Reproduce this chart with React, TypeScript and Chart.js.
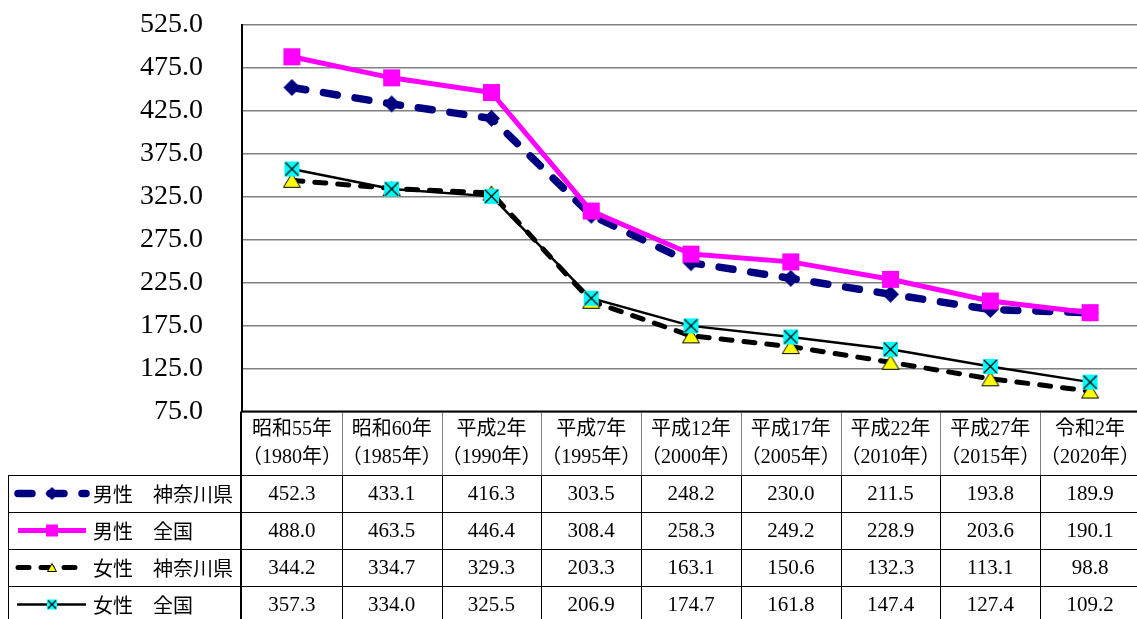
import React, { useEffect, useRef } from 'react';
import { Chart, registerables } from 'chart.js';

Chart.register(...registerables);

// ---- data ----
const eraLabels = ['昭和55年', '昭和60年', '平成2年', '平成7年', '平成12年', '平成17年', '平成22年', '平成27年', '令和2年'];
const yearLabels = ['（1980年）', '（1985年）', '（1990年）', '（1995年）', '（2000年）', '（2005年）', '（2010年）', '（2015年）', '（2020年）'];
const maleKanagawa = [452.3, 433.1, 416.3, 303.5, 248.2, 230.0, 211.5, 193.8, 189.9];
const maleNational = [488.0, 463.5, 446.4, 308.4, 258.3, 249.2, 228.9, 203.6, 190.1];
const femaleKanagawa = [344.2, 334.7, 329.3, 203.3, 163.1, 150.6, 132.3, 113.1, 98.8];
const femaleNational = [357.3, 334.0, 325.5, 206.9, 174.7, 161.8, 147.4, 127.4, 109.2];
const seriesNames = ['男性　神奈川県', '男性　全国', '女性　神奈川県', '女性　全国'];
const yMin = 75;
const yMax = 525;
const yStep = 50;

// ---- styles ----
const NAVY = '#000080';
const MAGENTA = '#FF00FF';
const YELLOW = '#FFFF00';
const CYAN = '#00FFFF';

function makeMarker(kind: string, w: number, h: number): HTMLCanvasElement {
  const pad = 1;
  const c = document.createElement('canvas');
  c.width = w + pad * 2;
  c.height = h + pad * 2;
  const ctx = c.getContext('2d') as CanvasRenderingContext2D;
  ctx.translate(pad, pad);
  if (kind === 'diamond') {
    ctx.beginPath();
    ctx.moveTo(w / 2, 0);
    ctx.lineTo(w, h / 2);
    ctx.lineTo(w / 2, h);
    ctx.lineTo(0, h / 2);
    ctx.closePath();
    ctx.fillStyle = NAVY;
    ctx.fill();
  } else if (kind === 'square') {
    ctx.fillStyle = MAGENTA;
    ctx.fillRect(0, 0, w, h);
  } else if (kind === 'triangle') {
    ctx.beginPath();
    ctx.moveTo(w / 2, 0.5);
    ctx.lineTo(w - 0.5, h - 0.5);
    ctx.lineTo(0.5, h - 0.5);
    ctx.closePath();
    ctx.fillStyle = YELLOW;
    ctx.fill();
    ctx.strokeStyle = '#000';
    ctx.lineWidth = 1;
    ctx.stroke();
  } else if (kind === 'xsquare') {
    ctx.fillStyle = CYAN;
    ctx.fillRect(0, 0, w, h);
    ctx.strokeStyle = '#000';
    ctx.lineWidth = 1.3;
    ctx.beginPath();
    ctx.moveTo(1, 1);
    ctx.lineTo(w - 1, h - 1);
    ctx.moveTo(w - 1, 1);
    ctx.lineTo(1, h - 1);
    ctx.stroke();
  }
  return c;
}

const HEADER_BOTTOM = 475;
const ROW_H = 37;
const TABLE_LEFT = 8;
const CANVAS_W = 1140;
const CANVAS_H = 619;

export default function App() {
  const ref = useRef<HTMLCanvasElement | null>(null);

  useEffect(() => {
    const canvas = ref.current;
    if (!canvas) return;

    const mk = {
      diamond: makeMarker('diamond', 17, 17),
      square: makeMarker('square', 17, 17),
      triangle: makeMarker('triangle', 18, 15),
      xsquare: makeMarker('xsquare', 15, 15),
    };
    const lg = {
      diamond: makeMarker('diamond', 13, 13),
      square: makeMarker('square', 12, 12),
      triangle: makeMarker('triangle', 10, 9),
      xsquare: makeMarker('xsquare', 10, 10),
    };

    const seriesStyles = [
      { color: NAVY, width: 7.5, dash: [14, 18], marker: lg.diamond },
      { color: MAGENTA, width: 5, dash: [] as number[], marker: lg.square },
      { color: '#000', width: 5, dash: [11, 12], marker: lg.triangle },
      { color: '#000', width: 2.5, dash: [] as number[], marker: lg.xsquare },
    ];
    const seriesData = [maleKanagawa, maleNational, femaleKanagawa, femaleNational];

    const tablePlugin = {
      id: 'dataTable',
      afterDraw(chart: any) {
        const ctx: CanvasRenderingContext2D = chart.ctx;
        const area = chart.chartArea;
        const n = eraLabels.length;
        const colW = (area.right - area.left) / n;
        const left = area.left;
        const right = area.right;
        const top = area.bottom;
        const bottom = CANVAS_H;
        ctx.save();

        // header vertical separators (gray)
        ctx.strokeStyle = '#808080';
        ctx.lineWidth = 1;
        for (let i = 1; i <= n; i++) {
          const x = Math.round(left + i * colW) + 0.5;
          ctx.beginPath();
          ctx.moveTo(x, top);
          ctx.lineTo(x, HEADER_BOTTOM);
          ctx.stroke();
        }
        // data vertical separators (black)
        ctx.strokeStyle = '#000';
        for (let i = 1; i <= n; i++) {
          const x = Math.round(left + i * colW) + 0.5;
          ctx.beginPath();
          ctx.moveTo(x, HEADER_BOTTOM);
          ctx.lineTo(x, bottom);
          ctx.stroke();
        }
        // horizontal row lines
        for (let r = 0; r < 4; r++) {
          const y = HEADER_BOTTOM + r * ROW_H + 0.5;
          ctx.beginPath();
          ctx.moveTo(TABLE_LEFT, y);
          ctx.lineTo(right, y);
          ctx.stroke();
        }
        // left border of legend column
        ctx.beginPath();
        ctx.moveTo(TABLE_LEFT + 0.5, HEADER_BOTTOM);
        ctx.lineTo(TABLE_LEFT + 0.5, bottom);
        ctx.stroke();
        // axis lines (black)
        ctx.lineWidth = 2;
        ctx.beginPath();
        ctx.moveTo(left - 1, top);
        ctx.lineTo(right, top);
        ctx.stroke();
        ctx.beginPath();
        ctx.moveTo(left - 1, top);
        ctx.lineTo(left - 1, bottom);
        ctx.stroke();

        // header text
        ctx.fillStyle = '#000';
        ctx.textAlign = 'center';
        ctx.textBaseline = 'middle';
        ctx.font = "20px 'Liberation Serif', 'Noto Sans CJK JP', serif";
        for (let i = 0; i < n; i++) {
          const cx = chart.scales.x.getPixelForValue(i);
          ctx.fillText(eraLabels[i], cx, 430);
          ctx.fillText(yearLabels[i], cx, 458);
        }
        // data values
        ctx.font = "21px 'Liberation Serif', serif";
        for (let r = 0; r < 4; r++) {
          const cy = HEADER_BOTTOM + r * ROW_H + ROW_H / 2 + 1;
          for (let i = 0; i < n; i++) {
            const cx = chart.scales.x.getPixelForValue(i);
            ctx.fillText(seriesData[r][i].toFixed(1), cx, cy);
          }
        }
        // legend samples + names
        ctx.textAlign = 'left';
        ctx.font = "20px 'Noto Sans CJK JP', sans-serif";
        for (let r = 0; r < 4; r++) {
          const st = seriesStyles[r];
          const cy = HEADER_BOTTOM + r * ROW_H + ROW_H / 2;
          ctx.save();
          ctx.strokeStyle = st.color;
          ctx.lineWidth = st.width;
          ctx.lineCap = st.dash.length ? 'round' : 'butt';
          ctx.setLineDash(st.dash);
          ctx.beginPath();
          const x0 = r === 3 ? 17 : 18;
          const x1 = 86;
          ctx.moveTo(x0, cy);
          ctx.lineTo(x1, cy);
          ctx.stroke();
          ctx.restore();
          const m = st.marker;
          ctx.drawImage(m, 52 - m.width / 2, cy - m.height / 2);
          ctx.fillStyle = '#000';
          ctx.fillText(seriesNames[r], 93, cy + 1);
        }
        ctx.restore();
      },
    };

    const chart = new Chart(canvas, {
      type: 'line',
      data: {
        labels: eraLabels.map((e, i) => [e, yearLabels[i]]),
        datasets: [
          {
            label: seriesNames[0],
            data: maleKanagawa,
            order: 4,
            borderColor: NAVY,
            backgroundColor: NAVY,
            borderWidth: 7.5,
            borderDash: [14, 18],
            borderCapStyle: 'round',
            borderJoinStyle: 'round',
            pointStyle: mk.diamond as any,
            pointRadius: 9,
            tension: 0,
            fill: false,
          },
          {
            label: seriesNames[1],
            data: maleNational,
            order: 3,
            borderColor: MAGENTA,
            backgroundColor: MAGENTA,
            borderWidth: 5,
            borderJoinStyle: 'round',
            pointStyle: mk.square as any,
            pointRadius: 9,
            tension: 0,
            fill: false,
          },
          {
            label: seriesNames[2],
            data: femaleKanagawa,
            order: 2,
            borderColor: '#000',
            backgroundColor: YELLOW,
            borderWidth: 5,
            borderDash: [11, 12],
            borderCapStyle: 'round',
            borderJoinStyle: 'round',
            pointStyle: mk.triangle as any,
            pointRadius: 9,
            tension: 0,
            fill: false,
          },
          {
            label: seriesNames[3],
            data: femaleNational,
            order: 1,
            borderColor: '#000',
            backgroundColor: CYAN,
            borderWidth: 2.5,
            pointStyle: mk.xsquare as any,
            pointRadius: 8,
            tension: 0,
            fill: false,
          },
        ],
      },
      options: {
        animation: false,
        responsive: false,
        devicePixelRatio: 1,
        layout: { autoPadding: false, padding: { left: 0, right: 0, top: 25, bottom: CANVAS_H - 411.5 } },
        plugins: {
          legend: { display: false },
          tooltip: { enabled: false },
        },
        scales: {
          x: { type: 'category', offset: true, display: false },
          y: {
            min: yMin,
            max: yMax,
            ticks: {
              stepSize: yStep,
              callback: (v: any) => Number(v).toFixed(1),
              font: { family: "'Liberation Serif', serif", size: 28 },
              color: '#000',
              padding: 39,
            },
            grid: { color: '#808080', lineWidth: 1.5, drawTicks: false },
            border: { display: true, color: '#000', width: 2 },
            afterFit: (s: any) => {
              s.width = 242;
              s.paddingTop = 0;
              s.paddingBottom = 0;
              s.paddingLeft = 0;
              s.paddingRight = 0;
            },
          },
        },
      },
      plugins: [tablePlugin],
    } as any);

    return () => {
      chart.destroy();
    };
  }, []);

  return (
    <div
      style={{
        position: 'fixed',
        left: 0,
        top: 0,
        width: 1137,
        height: 619,
        overflow: 'hidden',
        background: '#fff',
      }}
    >
      <canvas ref={ref} width={CANVAS_W} height={CANVAS_H} style={{ display: 'block' }} />
    </div>
  );
}
